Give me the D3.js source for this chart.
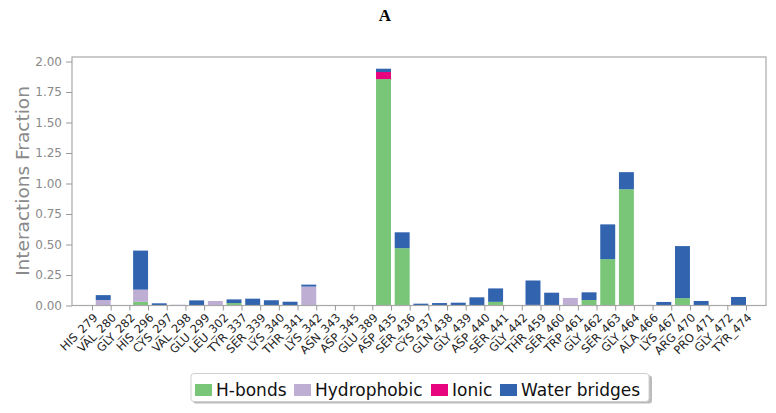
<!DOCTYPE html>
<html>
<head>
<meta charset="utf-8">
<script src="https://cdn.jsdelivr.net/npm/d3@7"></script>
<style>
  body { margin: 0; background: #fff; }
  text { font-family: "DejaVu Sans", sans-serif; }
</style>
</head>
<body>
<div id="chart"></div>
<script>
// residues on the x axis
const residues = ["HIS_279", "VAL_280", "GLY_282", "HIS_296", "CYS_297", "VAL_298", "GLU_299", "LEU_302",
    "TYR_337", "SER_339", "LYS_340", "THR_341", "LYS_342", "ASN_343", "ASP_345", "GLU_389",
    "ASP_435", "SER_436", "CYS_437", "GLN_438", "GLY_439", "ASP_440", "SER_441", "GLY_442",
    "THR_459", "SER_460", "TRP_461", "GLY_462", "SER_463", "GLY_464", "ALA_466", "LYS_467",
    "ARG_470", "PRO_471", "GLY_472", "TYR_474"];

// interaction fractions per residue
const hBonds = [0, 0, 0, 0.03, 0, 0, 0, 0,
    0.02, 0, 0, 0, 0, 0, 0, 0,
    1.856, 0.47, 0, 0, 0, 0, 0.03, 0,
    0.005, 0, 0, 0.045, 0.38, 0.953, 0, 0,
    0.06, 0, 0, 0];
const hydrophobic = [0, 0.045, 0, 0.10, 0, 0.006, 0, 0.037,
    0, 0, 0, 0, 0.155, 0, 0, 0,
    0, 0, 0, 0, 0, 0, 0, 0,
    0, 0, 0.062, 0, 0, 0, 0.005, 0,
    0, 0, 0, 0];
const ionic = [0, 0, 0, 0, 0, 0, 0, 0,
    0, 0, 0, 0, 0, 0, 0, 0,
    0.058, 0, 0, 0, 0, 0, 0, 0,
    0, 0, 0, 0, 0, 0, 0, 0,
    0, 0, 0, 0];
const waterBridges = [0, 0.04, 0, 0.32, 0.018, 0, 0.042, 0,
    0.03, 0.056, 0.043, 0.031, 0.016, 0, 0.004, 0.004,
    0.027, 0.13, 0.015, 0.02, 0.023, 0.067, 0.11, 0,
    0.2, 0.105, 0, 0.063, 0.285, 0.14, 0, 0.029,
    0.427, 0.037, 0, 0.07];

const seriesNames = ["H-bonds", "Hydrophobic", "Ionic", "Water bridges"];
const seriesColors = ["#79C679", "#BEAED4", "#E8037F", "#3163AF"];
const yTicks = [0, 0.25, 0.5, 0.75, 1.0, 1.25, 1.5, 1.75, 2.0];

const wSvg = 776;
const hSvg = 413;
const plotLeft = 72, plotRight = 766, plotTop = 57, plotBottom = 305.5;

const rows = residues.map((r, i) => ({
    name: r,
    "H-bonds": hBonds[i],
    "Hydrophobic": hydrophobic[i],
    "Ionic": ionic[i],
    "Water bridges": waterBridges[i]
}));

const svg = d3.select("#chart")
    .append("svg")
    .attr("width", wSvg)
    .attr("height", hSvg);

// Scales
const xScale = d3.scalePoint(residues, [92, 746]);
const barW = xScale.step() * 0.8;
const yScale = d3.scaleLinear([0, 2.037], [plotBottom, plotTop]);

// title
svg.append("text")
    .attr("x", 385)
    .attr("y", 21)
    .attr("text-anchor", "middle")
    .style("font-family", "'Liberation Serif', serif")
    .style("font-weight", "bold")
    .style("font-size", "17px")
    .text("A");

// Bars
const stacked = d3.stack().keys(seriesNames)(rows);
svg.append("g")
    .selectAll("g")
    .data(stacked)
    .enter()
    .append("g")
    .attr("fill", (d, i) => seriesColors[i])
    .selectAll("rect")
    .data(d => d)
    .enter()
    .append("rect")
    .attr("x", d => xScale(d.data.name) - barW)
    .attr("y", d => yScale(d[1]))
    .attr("width", barW)
    .attr("height", d => yScale(d[0]) - yScale(d[1]));

// frame
svg.append("rect")
    .attr("x", plotLeft)
    .attr("y", plotTop)
    .attr("width", plotRight - plotLeft)
    .attr("height", plotBottom - plotTop)
    .attr("fill", "none")
    .attr("stroke", "#a8a8a8")
    .attr("stroke-width", 1.2);

// Axis
const yAxis = svg.append("g")
    .attr("transform", `translate(${plotLeft}, 0)`)
    .call(d3.axisLeft(yScale).tickValues(yTicks).tickFormat(d3.format(".2f")).tickSize(6).tickPadding(4));
yAxis.select(".domain").remove();
yAxis.selectAll("line").attr("stroke", "#999");
yAxis.selectAll("text").attr("fill", "#8a8a8a").style("font-size", "12px");

const xAxis = svg.append("g")
    .attr("transform", `translate(0, ${plotBottom})`)
    .call(d3.axisBottom(xScale).tickSize(5).tickPadding(2));
xAxis.select(".domain").remove();
xAxis.selectAll("line").attr("stroke", "#999");
xAxis.selectAll("text")
    .attr("fill", "#222")
    .style("font-size", "11.5px")
    .attr("text-anchor", "end")
    .attr("x", 0)
    .attr("y", 0)
    .attr("dy", "0.35em")
    .attr("transform", "translate(3, 10) rotate(-45)");

svg.append("text")
    .attr("transform", "translate(29, 181) rotate(-90)")
    .attr("text-anchor", "middle")
    .attr("fill", "#8a8a8a")
    .style("font-size", "18.5px")
    .text("Interactions Fraction");

// legend
const legend = svg.append("g");
legend.append("rect")
    .attr("x", 193).attr("y", 375.5)
    .attr("width", 459).attr("height", 28)
    .attr("rx", 3)
    .attr("fill", "#bbb");
legend.append("rect")
    .attr("x", 191).attr("y", 373.5)
    .attr("width", 458).attr("height", 28)
    .attr("rx", 3)
    .attr("fill", "#fff")
    .attr("stroke", "#d0d0d0");
const legendX = [195, 294, 431, 500];
seriesNames.forEach((name, i) => {
    legend.append("rect")
        .attr("x", legendX[i]).attr("y", 384)
        .attr("width", 17).attr("height", 12)
        .attr("fill", seriesColors[i]);
    legend.append("text")
        .attr("x", legendX[i] + 21).attr("y", 396)
        .attr("fill", "#111")
        .style("font-size", "17px")
        .text(name);
});
</script>
</body>
</html>
